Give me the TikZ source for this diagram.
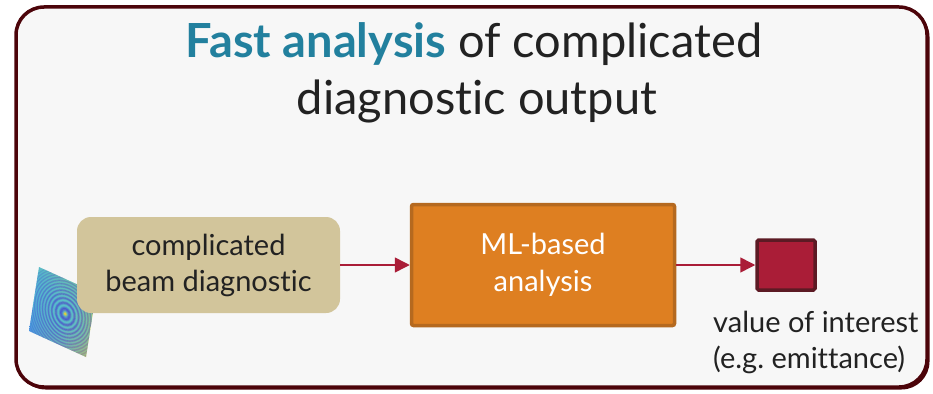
\documentclass[tikz,border=0pt]{standalone}
\usepackage{fontspec}
\setmainfont{Lato}[Ligatures={NoCommon,NoDiscretionary,NoRequired}]
\usetikzlibrary{arrows.meta,shadings}
\frenchspacing

\definecolor{panelbg}{RGB}{247,247,247}
\definecolor{frameclr}{RGB}{76,4,10}
\definecolor{tanfill}{RGB}{210,197,155}
\definecolor{orfill}{RGB}{222,127,33}
\definecolor{ordraw}{RGB}{181,105,31}
\definecolor{redfill}{RGB}{170,29,55}
\definecolor{reddraw}{RGB}{92,26,36}
\definecolor{arrowclr}{RGB}{170,29,55}
\definecolor{titleteal}{RGB}{34,128,158}
\definecolor{txt}{RGB}{34,34,34}
\definecolor{ringblue}{RGB}{66,84,214}
\definecolor{ringcyan}{RGB}{80,200,215}
\definecolor{ringyellow}{RGB}{225,205,60}
\definecolor{scrblue}{RGB}{70,130,230}
\definecolor{scrcyan}{RGB}{80,185,215}
\definecolor{scrgreen}{RGB}{150,205,110}
\definecolor{scryellow}{RGB}{230,200,60}

\tikzset{
  panel/.style={draw=frameclr, line width=3.5pt, fill=panelbg, rounded corners=28pt},
  beambox/.style={fill=tanfill, rounded corners=14pt, minimum width=263pt, minimum height=96pt,
    text=txt, align=center, font=\fontsize{29}{36}\selectfont},
  mlbox/.style={fill=orfill, draw=ordraw, line width=3.5pt, rounded corners=2pt,
    minimum width=263pt, minimum height=121pt, text=white, align=center,
    font=\fontsize{29}{37}\selectfont},
  valbox/.style={fill=redfill, draw=reddraw, line width=3.5pt, rounded corners=1.5pt,
    minimum width=58pt, minimum height=50pt},
  flow/.style={draw=arrowclr, line width=1.5pt, -{Triangle[length=15pt,width=15pt]}},
  label/.style={text=txt, font=\fontsize{29}{36}\selectfont, inner sep=0pt},
  titletext/.style={text=txt, font=\fontsize{47}{57}\selectfont, inner sep=0pt}
}

\begin{document}
\begin{tikzpicture}[x=1pt, y=-1pt]
  \useasboundingbox (0,0) rectangle (933,393);

  % framed panel with a slight shadow
  \fill[frameclr, rounded corners=28pt] (17.5,9) rectangle (929.5,389.5);
  \draw[panel] (16,7) rectangle (927,387);

  % title
  \node[titletext, anchor=base] (title1) at (474,58)
    {\textbf{\color{titleteal}Fast analysis} of complicated};
  \node[titletext, anchor=base] (title2) at (477,114) {diagnostic output};

  % diagnostic screen image: interference rings on a tilted square
  \begin{scope}[cm={57,-26,10,64,(29,331)}, x=1pt, y=1pt]
    \clip (0,0) -- (1,0) -- (1,1) -- (0,1) -- cycle;
    \shade[lower left=scrblue, upper left=scrcyan, upper right=scrgreen, lower right=scryellow]
      (0,0) rectangle (1,1);
    \foreach \i in {0,...,85}{
      \pgfmathsetmacro{\ra}{\i*0.008}
      \pgfmathsetmacro{\rb}{\ra+0.0085}
      \pgfmathsetmacro{\rm}{\ra+0.004}
      \pgfmathsetmacro{\p}{50+50*cos(7955*\rm^1.5)}
      \pgfmathsetmacro{\q}{max(0,100-\rm*2000)}
      \pgfmathsetmacro{\o}{max(0.15,1-\rm*1.1)}
      \colorlet{ringtmp}{ringcyan!\p!ringblue}
      \fill[ringyellow!\q!ringtmp, fill opacity=\o, even odd rule]
        (0.55,0.49) circle[radius=\rb] circle[radius=\ra];
    }
    \fill[ringyellow] (0.55,0.49) circle[radius=0.022];
  \end{scope}

  % nodes
  \node[beambox] (beam) at (208.5,265) {complicated\\beam diagnostic};
  \node[mlbox] (ml) at (543,265) {ML-based\\analysis};
  \node[valbox] (val) at (786,265) {};
  \node[label, anchor=base west] (vlabel1) at (713,332) {value of interest};
  \node[label, anchor=base west] (vlabel2) at (713,368) {(e.g. emittance)};

  % connectors
  \draw[flow] (beam.east) -- (ml.west);
  \draw[flow] (ml.east) -- (val.west);
\end{tikzpicture}
\end{document}
